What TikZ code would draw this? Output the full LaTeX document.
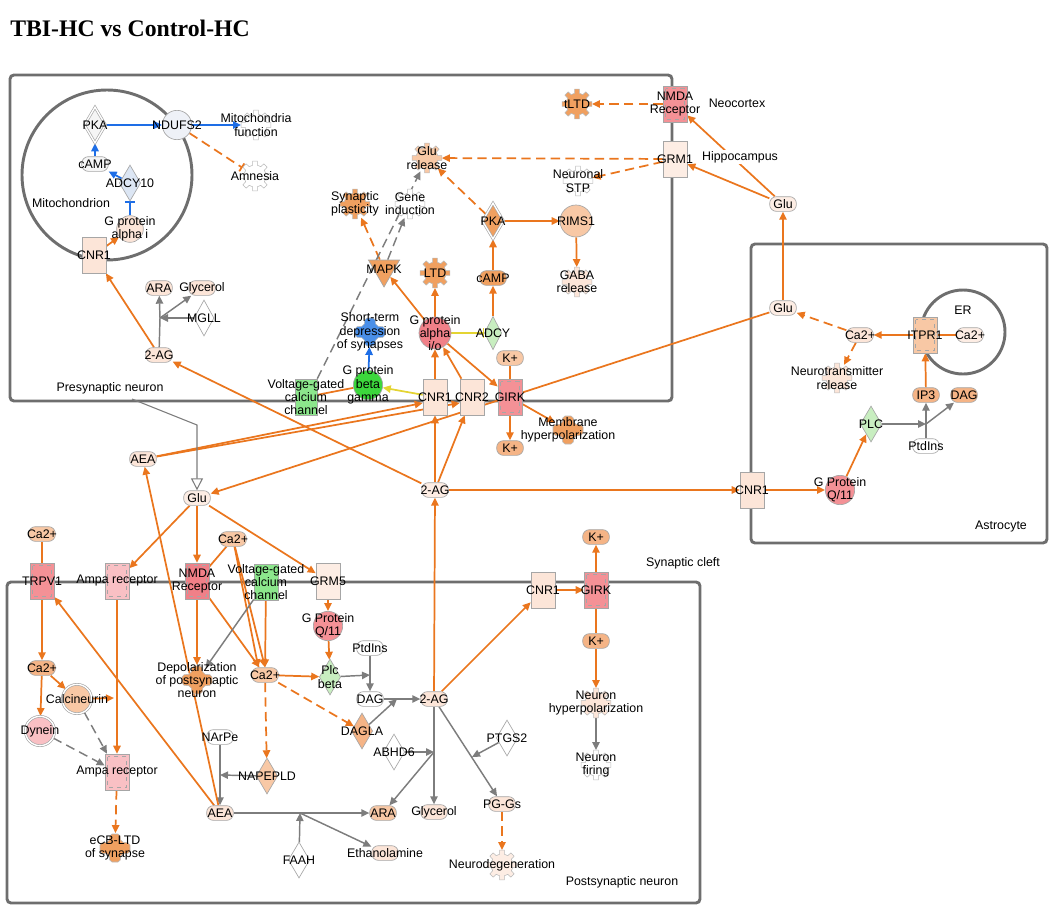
\documentclass[tikz,border=0pt]{standalone}
\usepackage{fontspec}
\setmainfont{Liberation Sans}
\newfontfamily\titlefont{Liberation Serif}
\usetikzlibrary{arrows.meta,shapes.geometric}
\pgfdeclarelayer{complayer}
\pgfdeclarelayer{edgelayer}
\pgfsetlayers{complayer,edgelayer,main}
\definecolor{orc}{RGB}{234,118,30}
\definecolor{grc}{RGB}{125,125,125}
\definecolor{blc}{RGB}{30,110,230}
\definecolor{ylc}{RGB}{228,212,50}
\definecolor{compc}{RGB}{110,110,110}
\definecolor{pch}{RGB}{252,229,216}
\definecolor{pch2}{RGB}{253,237,228}
\definecolor{lor}{RGB}{248,200,165}
\definecolor{mor}{RGB}{245,180,134}
\definecolor{dor}{RGB}{240,160,96}
\definecolor{pnk}{RGB}{244,145,150}
\definecolor{lpk}{RGB}{249,192,196}
\definecolor{rdp}{RGB}{240,128,136}
\definecolor{grn}{RGB}{60,215,60}
\definecolor{lgr}{RGB}{200,238,192}
\definecolor{mgr}{RGB}{140,230,140}
\definecolor{lblue}{RGB}{220,230,244}
\definecolor{blu}{RGB}{74,143,232}
\definecolor{ltg}{RGB}{245,245,245}
\newcommand\lblf{\fontsize{9.3}{10}\selectfont}
\tikzset{
  base/.style={draw=gray!70, line width=0.5pt, inner sep=0pt},
  chem/.style={base, rectangle, rounded corners=5pt, minimum width=20pt, minimum height=11pt},
  recep/.style={base, rectangle, minimum width=18pt, minimum height=27pt},
  chan/.style={recep, path picture={\draw[gray!70, dashed, line width=0.4pt] ([shift={(2pt,-2pt)}]path picture bounding box.north west) rectangle ([shift={(-2pt,2pt)}]path picture bounding box.south east);}},
  dia/.style={base, diamond, minimum width=16pt, minimum height=27pt},
  ddia/.style={dia, double=white, double distance=1pt},
  circ/.style={base, circle, minimum size=22pt},
  dcirc/.style={circ, double=white, double distance=1pt},
  tri/.style={base, regular polygon, regular polygon sides=3, shape border rotate=180, minimum size=27pt},
  fn/.style={circle, inner sep=0pt, minimum size=22pt},
  eo/.style={draw=orc, line width=1.3pt, -{Triangle[length=6pt,width=5.5pt]}},
  eol/.style={draw=orc, line width=1.3pt},
  eod/.style={eo, dash pattern=on 7pt off 4pt},
  eodt/.style={draw=orc, line width=1.3pt, dash pattern=on 7pt off 4pt, -{Bar[width=7pt]}},
  eg/.style={draw=grc, line width=1.1pt, -{Triangle[length=6pt,width=5.5pt]}},
  egl/.style={draw=grc, line width=1.1pt},
  egd/.style={eg, dash pattern=on 7pt off 4pt},
  eb/.style={draw=blc, line width=1.3pt, -{Triangle[length=6pt,width=5.5pt]}},
  ebt/.style={draw=blc, line width=1.1pt, -{Bar[width=7pt]}},
  ey/.style={draw=ylc, line width=1.3pt, -{Triangle[length=6pt,width=5.5pt]}},
  eyt/.style={draw=ylc, line width=1.1pt, -{Bar[width=7pt]}},
  etr/.style={draw=grc, line width=0.8pt, -{Triangle[open,length=9pt,width=9pt]}},
  comp/.style={draw=compc, line width=2.2pt, rounded corners=3pt},
  pics/gear/.style={code={\draw[draw=gray!55, line width=0.4pt, fill=#1] (-13:11) \foreach \a in {0,45,...,315}{ -- ({\a-13}:11) -- ({\a-9}:15) -- ({\a+9}:15) -- ({\a+13}:11)} -- cycle;}},
  pics/crossp/.style={code={\draw[draw=gray!55, line width=0.4pt, fill=#1, rounded corners=1.5pt] (-5,-14) -- (5,-14) -- (6,-6) -- (15,-5) -- (15,5) -- (6,6) -- (5,14) -- (-5,14) -- (-6,6) -- (-15,5) -- (-15,-5) -- (-6,-6) -- cycle;}}
}
\newcommand\mknode[4]{\node[#1,label={center:#4}] (#2) at (#3) {};}
\newcommand\mkgear[4]{\pic at (#2) {gear=#3};\node[fn,label={center:#4}] (#1) at (#2) {};}
\newcommand\mkcross[4]{\pic at (#2) {crossp=#3};\node[fn,label={center:#4}] (#1) at (#2) {};}
\begin{document}
\begin{tikzpicture}[x=0.75pt,y=-0.75pt, every node/.append style={font=\lblf}, every label/.style={font=\lblf, align=center, inner sep=0pt, text=black}]
\useasboundingbox (0,0) rectangle (1052,907);
\node[anchor=west, inner sep=0pt, font=\titlefont\bfseries\fontsize{17.8}{21}\selectfont] (title) at (10,28) {TBI-HC vs Control-HC};

\begin{pgfonlayer}{complayer}
\draw[comp] (10,75) rectangle (672,401);
\draw[comp] (751,244) rectangle (1047,543);
\draw[comp] (7,582) rectangle (700,903);
\draw[draw=compc, line width=2.2pt] (107,175) circle (85);
\draw[draw=compc, line width=2.2pt] (963,332) circle (42);
\end{pgfonlayer}

% compartment labels
\node (lmito) at (71,203) {Mitochondrion};
\node (lpre) at (110,388) {Presynaptic neuron};
\node (lneo) at (737,103) {Neocortex};
\node[fill=white, inner sep=1pt] (lhip) at (740,157) {Hippocampus};
\node (ler) at (963,310) {ER};
\node (lastro) at (1001,527) {Astrocyte};
\node (lcleft) at (683,563) {Synaptic cleft};
\node (lpost) at (622,882) {Postsynaptic neuron};

% mitochondrion
\mknode{ddia,fill=ltg}{pkam}{95,125}{PKA}
\mknode{circ,fill={rgb,255:red,238;green,241;blue,247}}{ndufs2}{177,125}{NDUFS2}
\mkgear{mitof}{256,125}{white}{Mitochondria\\function}
\mkgear{amnesia}{255,176}{white}{Amnesia}
\mknode{chem,fill=ltg}{campm}{95,164}{cAMP}
\mknode{dia,fill=lblue}{adcy10}{130,183}{ADCY10}
\mknode{circ,fill=pch,minimum size=20pt}{gpai}{130,229}{G protein\\alpha i}
\mknode{recep,fill=pch}{cnr1m}{94,255}{CNR1}
\mknode{chem,fill=pch}{arap}{159,288}{ARA}
\mknode{chem,fill=pch}{glyp}{202,288}{Glycerol}
\mknode{dia,fill=white,minimum width=15pt}{mgll}{204,318}{MGLL}
\mknode{chem,fill=pch}{twoagp}{159,355}{2-AG}
\coordinate (jp1) at (160,318);

% presynaptic
\mkgear{tltd}{577,104}{dor}{tLTD}
\mknode{chan,fill=pnk}{nmdap}{675,104}{NMDA\\Receptor}
\mknode{recep,fill=pch2}{grm1}{675,159}{GRM1}
\mkgear{glurel}{427,158}{lor}{Glu\\release}
\mkgear{nstp}{578,181}{white}{Neuronal\\STP}
\mkgear{synpl}{355,204}{dor}{Synaptic\\plasticity}
\mkgear{geneind}{410,204}{white}{Gene\\induction}
\mknode{ddia,fill=dor}{pkap}{493,221}{PKA}
\mknode{circ,fill=lor,minimum size=24pt}{rims1}{576,221}{RIMS1}
\mkgear{gabarel}{577,282}{pch}{GABA\\release}
\mknode{tri,fill=dor}{mapk}{384,269}{MAPK}
\mkgear{ltd}{435,273}{dor}{LTD}
\mknode{chem,fill=dor}{campp}{493,278}{cAMP}
\mknode{circ,fill=rdp,minimum size=24pt}{gpaio}{435,333}{G protein\\alpha\\i/o}
\mknode{dia,fill=lgr,minimum width=13pt,minimum height=25pt}{adcy}{493,333}{ADCY}
\mkcross{std}{370,332}{blu}{Short-term\\depression\\of synapses}
\mknode{chem,fill=lor}{kpt}{510,358}{K+}
\mknode{circ,fill=grn}{gpbg}{368,385}{G protein\\beta\\gamma}
\mknode{recep,fill=mgr,minimum width=16.5pt}{vgccp}{306,397}{Voltage-gated\\calcium\\channel}
\mknode{recep,fill=pch}{cnr1p}{435,397}{CNR1}
\mknode{recep,fill=pch}{cnr2p}{472,397}{CNR2}
\mknode{chan,fill=pnk}{girkp}{510,397}{GIRK}
\mknode{chem,fill=mor}{kpl}{510,448}{K+}
\mkcross{memhyp}{568,430}{dor}{Membrane\\hyperpolarization}

% astrocyte
\mknode{chem,fill=pch2}{glut}{783,204}{Glu}
\mknode{chem,fill=pch2}{glua}{783,308}{Glu}
\mknode{chem,fill=pch}{ca2a}{860,335}{Ca2+}
\mknode{chan,fill=lor}{itpr1}{925,335}{ITPR1}
\mknode{chem,fill=pch2}{ca2er}{970,335}{Ca2+}
\mkgear{ntrel}{837,378}{pch}{Neurotransmitter\\release}
\mknode{chem,fill=mor}{ip3}{926,395}{IP3}
\mknode{chem,fill=mor}{daga}{964,395}{DAG}
\mknode{dia,fill=lgr}{plc}{871,424}{PLC}
\mknode{chem,fill=white}{ptdinsa}{926,446}{PtdIns}
\coordinate (ja) at (926,424);
\mknode{recep,fill=pch}{cnr1a}{752,490}{CNR1}
\mknode{circ,fill=pnk}{gq11a}{840,490}{G Protein\\Q/11}

% cleft
\mknode{chem,fill=pch}{aeac}{143,459}{AEA}
\mknode{chem,fill=pch2}{gluc}{197,498}{Glu}
\mknode{chem,fill=pch2}{twoagc}{435,490}{2-AG}
\coordinate (jpre) at (132,399);
\coordinate (jtri) at (197,425);

% postsynaptic
\mknode{chem,fill=lor}{ca2l}{42,534}{Ca2+}
\mknode{chan,fill=pnk}{trpv1}{42,581}{TRPV1}
\mknode{chan,fill=lpk}{ampat}{117,581}{Ampa receptor}
\mknode{chan,fill=rdp}{nmdapo}{197,581}{NMDA\\Receptor}
\mknode{chem,fill=lor}{ca2pt}{233,539}{Ca2+}
\mknode{recep,fill=mgr}{vgccpo}{266,582}{Voltage-gated\\calcium\\channel}
\mknode{recep,fill=pch2}{grm5}{328,581}{GRM5}
\mknode{circ,fill=pnk}{gq11p}{328,626}{G Protein\\Q/11}
\mknode{recep,fill=pch}{cnr1po}{543,590}{CNR1}
\mknode{chan,fill=pnk}{girkpo}{596,590}{GIRK}
\mknode{chem,fill=mor}{kpot}{596,537}{K+}
\mknode{chem,fill=mor}{kpol}{596,641}{K+}
\mkgear{nhyp}{596,703}{pch}{Neuron\\hyperpolarization}
\mkgear{nfir}{596,765}{white}{Neuron\\firing}
\mknode{chem,fill=mor}{ca2ll}{42,668}{Ca2+}
\mknode{dcirc,fill=lor}{calcin}{77,699}{Calcineurin}
\mknode{dcirc,fill=lpk}{dynein}{40,731}{Dynein}
\mknode{chan,fill=lpk}{ampal}{117,772}{Ampa receptor}
\mkcross{ecb}{115,848}{dor}{eCB-LTD\\of synapse}
\mkcross{depol}{197,680}{dor}{Depolarization\\of postsynaptic\\neuron}
\mknode{chem,fill=lor}{ca2m}{265,675}{Ca2+}
\mknode{dia,fill=lgr}{plcb}{330,677}{Plc\\beta}
\mknode{chem,fill=white}{ptdinsp}{370,648}{PtdIns}
\coordinate (jpl) at (370,675);
\mknode{chem,fill=white}{dagp}{370,699}{DAG}
\mknode{chem,fill=pch}{twoagp2}{434,699}{2-AG}
\coordinate (jdg) at (397,699);
\mknode{dia,fill=mor}{dagla}{362,731}{DAGLA}
\mknode{dia,fill=white}{abhd6}{394,752}{ABHD6}
\coordinate (jab) at (434,752);
\mknode{chem,fill=white}{narpe}{220,737}{NArPe}
\mknode{dia,fill=lor}{napepld}{267,776}{NAPEPLD}
\coordinate (jna) at (220,775);
\mknode{chem,fill=pch}{aeap}{220,813}{AEA}
\coordinate (jfa) at (300,813);
\mknode{dia,fill=white}{faah}{299,860}{FAAH}
\mknode{chem,fill=lor}{arapo}{383,813}{ARA}
\mknode{chem,fill=pch}{glypo}{434,812}{Glycerol}
\mknode{chem,fill=pch}{ethan}{385,853}{Ethanolamine}
\mknode{dia,fill=white}{ptgs2}{507,738}{PTGS2}
\coordinate (jpt) at (472,757);
\mknode{chem,fill=pch}{pggs}{502,804}{PG-Gs}
\mkgear{neurod}{502,865}{pch2}{Neurodegeneration}
\coordinate (jcal) at (114,698);

\begin{pgfonlayer}{edgelayer}
% mitochondrion
\draw[eb] (pkam) -- (ndufs2);
\draw[eb] (ndufs2) -- (mitof);
\draw[eodt] (ndufs2) -- (amnesia);
\draw[eb] (campm) -- (pkam);
\draw[eb] (adcy10) -- (campm);
\draw[ebt] (gpai) -- (adcy10);
\draw[eo] (cnr1m) -- (gpai);
\draw[eo] (twoagp) -- (cnr1m);
\draw[egl] (twoagp) -- (jp1);
\draw[eg] (jp1) -- (arap);
\draw[eg] (jp1) -- (glyp);
\draw[eg] (mgll) -- (jp1);
\draw[eo] (twoagc) -- (twoagp);
% presynaptic
\draw[eod] (nmdap) -- (tltd);
\draw[eo] (glut) -- (nmdap);
\draw[eo] (glut) -- (grm1);
\draw[eo] (glua) -- (glut);
\draw[eod] (grm1) -- (glurel);
\draw[eod] (grm1) -- (nstp);
\draw[eod] (pkap) -- (glurel);
\draw[eo] (pkap) -- (rims1);
\draw[eo] (rims1) -- (gabarel);
\draw[eo] (campp) -- (pkap);
\draw[eo] (adcy) -- (campp);
\draw[eyt] (gpaio) -- (adcy);
\draw[eo] (gpaio) -- (ltd);
\draw[eo] (gpaio) -- (mapk);
\draw[eod] (mapk) -- (synpl);
\draw[egd] (mapk) -- (geneind);
\draw[egd] (vgccp.north east) -- (glurel);
\draw[eo] (cnr1p) -- (gpaio);
\draw[eo] (cnr2p) -- (gpaio);
\draw[eo] (gpaio) -- (girkp);
\draw[ey] (cnr1p) -- (gpbg);
\draw[eb] (gpbg) -- (std);
\draw[eol] (gpbg) -- (vgccp);
\draw[eol] (kpt) -- (girkp);
\draw[eo] (girkp) -- (kpl);
\draw[eo] (girkp) -- (memhyp);
\draw[eo] (twoagc) -- (cnr1p);
\draw[eo] (twoagc) -- (cnr2p);
\draw[eo] (aeac) -- ([yshift=-4.5pt]cnr1p.west);
\draw[eo] (aeac) -- ([yshift=-4.5pt]cnr2p.west);
\draw[eo] (glua) -- (gluc);
% astrocyte
\draw[eo] (twoagc) -- (cnr1a);
\draw[eo] (cnr1a) -- (gq11a);
\draw[eo] (gq11a) -- (plc);
\draw[eg] (plc) -- (ja);
\draw[egl] (ptdinsa) -- (ja);
\draw[eg] (ja) -- (ip3);
\draw[eg] (ja) -- (daga);
\draw[eo] (ip3) -- (itpr1);
\draw[eo] (itpr1) -- (ca2a);
\draw[eol] (ca2er) -- (itpr1);
\draw[eod] (ca2a) -- (glua);
\draw[eod] (ca2a) -- (ntrel);
\draw[etr] (jpre) -- (jtri) -- (gluc);
% postsynaptic
\draw[eo] (gluc) -- (ampat);
\draw[eo] (gluc) -- (nmdapo);
\draw[eo] (gluc) -- (grm5);
\draw[eol] (ca2pt) -- (nmdapo);
\draw[eo] (ca2pt) -- (ca2m.north);
\draw[eo] (ca2pt) -- ([xshift=-5pt]ca2m.north);
\draw[eo] (vgccpo) -- (ca2m);
\draw[eo] (nmdapo) -- (ca2m);
\draw[eo] (nmdapo) -- (depol);
\draw[eg] (vgccpo) -- (depol);
\draw[eo] (grm5) -- (gq11p);
\draw[eo] (gq11p) -- (plcb);
\draw[eo] (ca2m) -- (plcb);
\draw[eg] (plcb) -- (jpl);
\draw[eg] (ptdinsp) -- (dagp);
\draw[eg] (dagp) -- (twoagp2);
\draw[eg] (dagla) -- (jdg);
\draw[eod] (ca2m) -- (dagla);
\draw[eod] (ca2m) -- (napepld);
\draw[eg] (napepld) -- (jna);
\draw[eg] (narpe) -- (aeap);
\draw[eg] (aeap) -- (arapo);
\draw[eg] (faah) -- (jfa);
\draw[eg] (jfa) -- (ethan);
\draw[eo] (twoagp2) -- (twoagc);
\draw[eo] (twoagp2) -- (cnr1po);
\draw[eg] (twoagp2) -- (glypo);
\draw[eg] (abhd6) -- (jab);
\draw[eg] (jab) -- (arapo);
\draw[eg] (twoagp2) -- (pggs);
\draw[eg] (ptgs2) -- (jpt);
\draw[eod] (pggs) -- (neurod);
\draw[eo] (cnr1po) -- (girkpo);
\draw[eo] (girkpo) -- (kpot);
\draw[eol] (kpol) -- (girkpo);
\draw[eo] (kpol) -- (nhyp);
\draw[eg] (nhyp) -- (nfir);
\draw[eol] (ca2l) -- (trpv1);
\draw[eo] (trpv1) -- (ca2ll);
\draw[eo] (ca2ll) -- (calcin);
\draw[eo] (ca2ll) -- (dynein);
\draw[eo] (calcin) -- (jcal);
\draw[egd] (calcin) -- (ampal);
\draw[egd] (dynein) -- (ampal);
\draw[eo] (ampat) -- (ampal);
\draw[eod] (ampal) -- (ecb);
\draw[eo] (aeap) -- (trpv1);
\draw[eo] (aeap) -- (aeac);
\end{pgfonlayer}
\end{tikzpicture}
\end{document}
